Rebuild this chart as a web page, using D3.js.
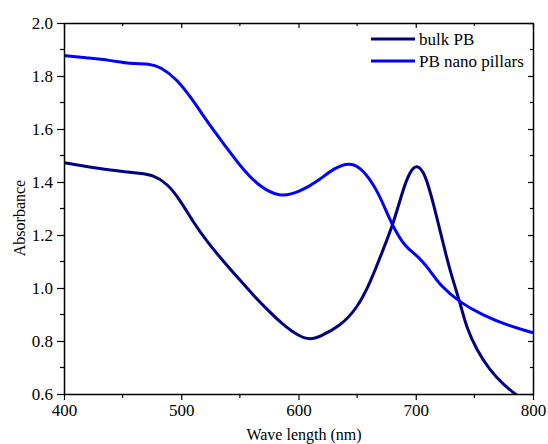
<!DOCTYPE html>
<html>
<head>
<meta charset="utf-8">
<script src="https://cdn.jsdelivr.net/npm/d3@7"></script>
<style>
  body { margin: 0; background: #fff; }
</style>
</head>
<body>
<div id="chart"></div>
<script>
// wavelength (nm) samples
const bulkWl = [400, 425, 448, 465, 476, 488, 499, 510, 522, 536, 550, 562, 573, 587, 601, 610, 618, 635, 650, 661, 672, 681, 689, 695, 701, 708, 715, 723, 729, 738, 743, 752, 763, 775, 786, 790];
const bulkAbs = [1.473, 1.454, 1.440, 1.433, 1.426, 1.395, 1.332, 1.250, 1.175, 1.100, 1.030, 0.970, 0.920, 0.860, 0.816, 0.805, 0.816, 0.854, 0.923, 1.018, 1.143, 1.244, 1.370, 1.440, 1.468, 1.432, 1.320, 1.175, 1.068, 0.942, 0.854, 0.766, 0.691, 0.634, 0.596, 0.585];

const nanoWl = [400, 420, 439, 456, 473, 482, 496, 510, 524, 539, 553, 567, 584, 601, 618, 630, 644, 655, 667, 675, 682, 692, 701, 712, 721, 738, 758, 778, 800];
const nanoAbs = [1.877, 1.868, 1.860, 1.846, 1.846, 1.835, 1.790, 1.709, 1.615, 1.528, 1.445, 1.382, 1.342, 1.362, 1.408, 1.452, 1.476, 1.448, 1.370, 1.288, 1.219, 1.150, 1.125, 1.068, 1.008, 0.944, 0.896, 0.860, 0.831];

const seriesNames = ["bulk PB", "PB nano pillars"];
const seriesColors = ["#000080", "#0000ff"];

const xTicks = [400, 500, 600, 700, 800];
const xMinor = [450, 550, 650, 750];
const yTicks = [0.6, 0.8, 1.0, 1.2, 1.4, 1.6, 1.8, 2.0];
const yMinor = [0.7, 0.9, 1.1, 1.3, 1.5, 1.7, 1.9];

const width = 548, height = 444;
const margin = { left: 64, right: 15, top: 23, bottom: 50 };
const serif = "Liberation Serif";

const svg = d3.select("#chart").append("svg")
  .attr("width", width)
  .attr("height", height)
  .attr("font-family", serif);

const x = d3.scaleLinear().domain([400, 800]).range([margin.left, width - margin.right]);
const y = d3.scaleLinear().domain([0.6, 2.0]).range([height - margin.bottom, margin.top]);

svg.append("clipPath").attr("id", "plot")
  .append("rect")
  .attr("x", x(400)).attr("y", y(2.0))
  .attr("width", x(800) - x(400)).attr("height", y(0.6) - y(2.0));

// curves (smoothed through the read-off samples)
const line = d3.line()
  .x(d => x(d[0]))
  .y(d => y(d[1]))
  .curve(d3.curveBasis);

const series = [
  d3.zip(bulkWl, bulkAbs),
  d3.zip(nanoWl, nanoAbs)
];

series.forEach((pts, i) => {
  svg.append("path")
    .datum(pts)
    .attr("clip-path", "url(#plot)")
    .attr("fill", "none")
    .attr("stroke", seriesColors[i])
    .attr("stroke-width", 3)
    .attr("d", line);
});

// axes: bottom/left ticks outside, top/right ticks inside
const fmt = d3.format(".1f");
const bottomAxis = svg.append("g")
  .attr("transform", `translate(0,${y(0.6)})`)
  .call(d3.axisBottom(x).tickValues(xTicks).tickSize(6).tickSizeOuter(0).tickPadding(4));
bottomAxis.append("g").selectAll("line").data(xMinor).join("line")
  .attr("x1", d => x(d)).attr("x2", d => x(d)).attr("y1", 0).attr("y2", 4);

const leftAxis = svg.append("g")
  .attr("transform", `translate(${x(400)},0)`)
  .call(d3.axisLeft(y).tickValues(yTicks).tickFormat(fmt).tickSize(7).tickSizeOuter(0).tickPadding(4));
leftAxis.append("g").selectAll("line").data(yMinor).join("line")
  .attr("y1", d => y(d)).attr("y2", d => y(d)).attr("x1", 0).attr("x2", -4);

const topAxis = svg.append("g")
  .attr("transform", `translate(0,${y(2.0)})`)
  .call(d3.axisBottom(x).tickValues(xTicks).tickSize(5).tickSizeOuter(0).tickFormat(""));
topAxis.append("g").selectAll("line").data(xMinor).join("line")
  .attr("x1", d => x(d)).attr("x2", d => x(d)).attr("y1", 0).attr("y2", 3);

const rightAxis = svg.append("g")
  .attr("transform", `translate(${x(800)},0)`)
  .call(d3.axisLeft(y).tickValues(yTicks).tickSizeOuter(0).tickFormat(""));
rightAxis.selectAll(".tick line").attr("x2", -5);
rightAxis.append("g").selectAll("line").data(yMinor).join("line")
  .attr("y1", d => y(d)).attr("y2", d => y(d)).attr("x1", 0).attr("x2", -3);

[bottomAxis, leftAxis, topAxis, rightAxis].forEach(g => {
  g.attr("font-family", serif).attr("font-size", 17);
  g.select(".domain").attr("stroke", "#000").attr("stroke-width", 1.5);
  g.selectAll("line").attr("stroke", "#000").attr("stroke-width", 1.2);
  g.selectAll("text").attr("fill", "#000");
});

// axis titles
svg.append("text")
  .attr("x", 304)
  .attr("y", 440)
  .attr("text-anchor", "middle")
  .attr("font-size", 16)
  .text("Wave length (nm)");

svg.append("text")
  .attr("transform", "translate(25,218) rotate(-90)")
  .attr("text-anchor", "middle")
  .attr("font-size", 16)
  .text("Absorbance");

// legend
const legend = svg.append("g");
seriesNames.forEach((name, i) => {
  const ly = 39 + i * 22;
  legend.append("line")
    .attr("x1", 371).attr("x2", 415)
    .attr("y1", ly).attr("y2", ly)
    .attr("stroke", seriesColors[i])
    .attr("stroke-width", 3);
  legend.append("text")
    .attr("x", 419).attr("y", ly + 5.5)
    .attr("font-size", 17)
    .text(name);
});
</script>
</body>
</html>
